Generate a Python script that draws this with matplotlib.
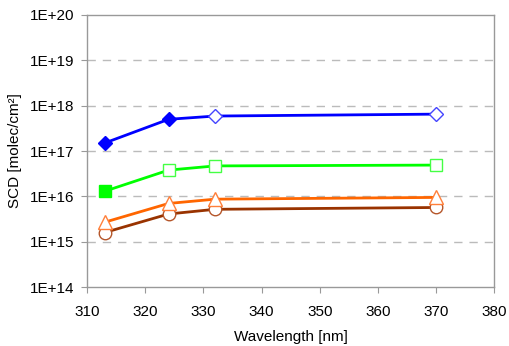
import numpy as np
import matplotlib
matplotlib.use("Agg")
import matplotlib.pyplot as plt

plt.rcParams["font.family"] = ["Liberation Sans", "DejaVu Sans"]

# wavelengths [nm] and slant column densities
wavelength = [313, 324, 332, 370]
scd_blue = [1.5e17, 5.0e17, 5.9e17, 6.5e17]
scd_green = [1.3e16, 3.8e16, 4.7e16, 4.9e16]
scd_orange = [2.7e15, 7.0e15, 8.7e15, 9.5e15]
scd_brown = [1.6e15, 4.1e15, 5.2e15, 5.7e15]

# which points are drawn filled
blue_filled = [True, True, False, False]
green_filled = [True, False, False, False]

xticks = [310, 320, 330, 340, 350, 360, 370, 380]
yticks = [1e14, 1e15, 1e16, 1e17, 1e18, 1e19, 1e20]
ytick_labels = ["1E+14", "1E+15", "1E+16", "1E+17", "1E+18", "1E+19", "1E+20"]

fig = plt.figure(figsize=(5.1, 3.46), dpi=100)
ax = fig.add_axes([0.171, 0.170, 0.798, 0.787])

ax.set_yscale("log")
ax.set_xlim(310, 380)
ax.set_ylim(1e14, 1e20)

for y in yticks[1:-1]:
    ax.axhline(y, color="#bbbbbb", lw=1, dashes=(6, 5), zorder=0)

# lines
ax.plot(wavelength, scd_brown, color="#993300", lw=2, zorder=2)
ax.plot(wavelength, scd_orange, color="#ff6600", lw=2, zorder=2)
ax.plot(wavelength, scd_green, color="#00ff00", lw=2, zorder=2)
ax.plot(wavelength, scd_blue, color="#0000ff", lw=2, zorder=2)

# markers
for x, y in zip(wavelength, scd_brown):
    ax.plot(x, y, "o", ms=9, mfc="white", mec="#b5562a", mew=1, zorder=3)
for x, y in zip(wavelength, scd_orange):
    ax.plot(x, y, "^", ms=10, mfc="white", mec="#ff7f3a", mew=1, zorder=3)
for x, y, f in zip(wavelength, scd_green, green_filled):
    if f:
        ax.plot(x, y, "s", ms=9, mfc="#00ff00", mec="#00ff00", mew=1, zorder=3)
    else:
        ax.plot(x, y, "s", ms=9, mfc="white", mec="#44ff44", mew=1, zorder=3)
for x, y, f in zip(wavelength, scd_blue, blue_filled):
    if f:
        ax.plot(x, y, "D", ms=7, mfc="#0000ff", mec="#0000ff", mew=1, zorder=3)
    else:
        ax.plot(x, y, "D", ms=7, mfc="white", mec="#4444ff", mew=1, zorder=3)

ax.set_xticks(xticks)
ax.set_yticks(yticks)
ax.set_yticklabels(ytick_labels)
ax.minorticks_off()

for s in ax.spines.values():
    s.set_color("#999999")
    s.set_linewidth(1)
ax.tick_params(axis="both", colors="#999999", labelcolor="black", labelsize=11,
               length=4, direction="out")
ax.tick_params(axis="x", pad=9)
ax.tick_params(axis="y", pad=5)

ax.set_xlabel("Wavelength [nm]", fontsize=11, labelpad=8)
ax.set_ylabel("SCD [molec/cm²]", fontsize=11, labelpad=6)

fig.savefig("out.png", dpi=100)
